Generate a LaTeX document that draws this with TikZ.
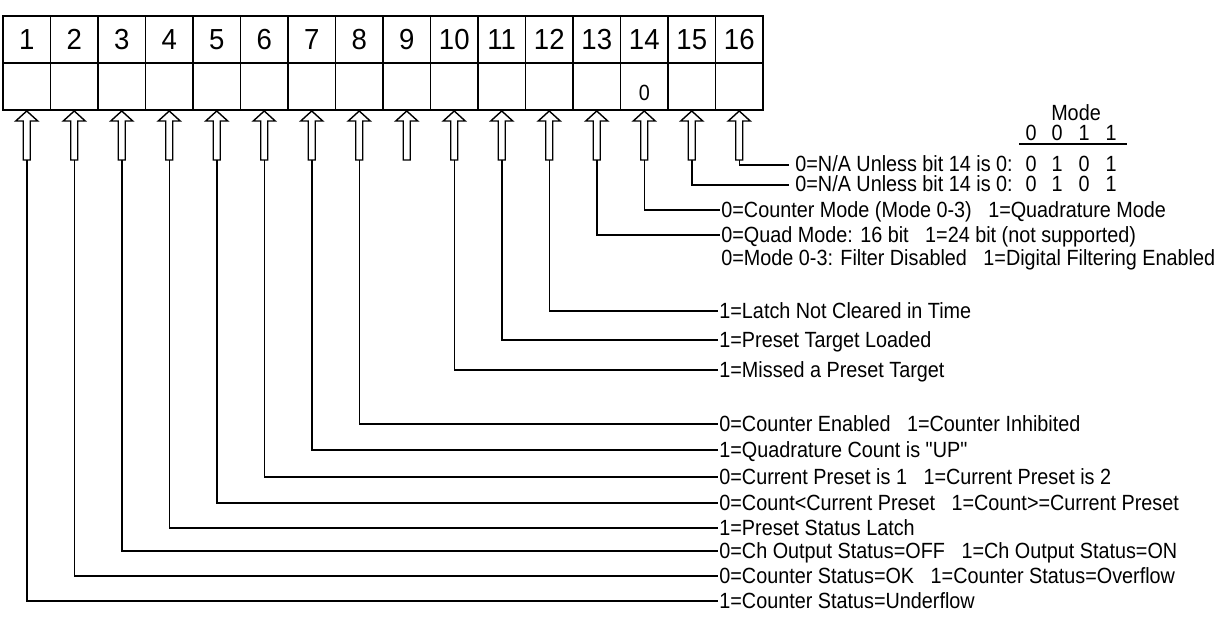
\documentclass[tikz,border=0pt]{standalone}
\usepackage{fontspec}
\setmainfont{Liberation Sans}[FakeStretch=0.9, Ligatures=TeXOff]
\newfontfamily\hdfamily{Liberation Sans}[FakeStretch=0.95]
\newcommand\lblfont{\fontsize{11pt}{13pt}\selectfont}
\newcommand\hdfont{\hdfamily\fontsize{14.5pt}{16pt}\selectfont}
\tikzset{
  cellbox/.style={draw, line width=0.8pt, minimum width=23.75pt, minimum height=23.5pt, inner sep=0pt, outer sep=0pt},
  hcell/.style={cellbox, font=\hdfont, text height=10.4pt, text depth=0pt},
  vcell/.style={cellbox},
  uparrow/.style={draw, line width=0.7pt, fill=white, line join=miter},
  lead/.style={draw, line width=0.75pt},
  lbl/.style={anchor=west, inner sep=0.5pt, font=\lblfont, text height=7.9pt, text depth=0pt},
  mval/.style={inner sep=0pt, font=\lblfont, text height=7.9pt, text depth=0pt},
}
\begin{document}
\begin{tikzpicture}[x=0.5pt,y=-0.5pt]
\useasboundingbox (0,0) rectangle (1220,627);
% register cells and arrows
\foreach \i in {1,...,16} {
  \pgfmathsetmacro\cx{26.75+(\i-1)*47.5}
  \node[hcell] (h\i) at (\cx,39.5) {\i};
  \node[vcell] (v\i) at (\cx,86.5) {};
  \draw[uparrow] (\cx,111) -- (\cx+11,121) -- (\cx+3.5,121) -- (\cx+3.5,160)
     -- (\cx-3.5,160) -- (\cx-3.5,121) -- (\cx-11,121) -- cycle;
  \coordinate (s\i) at (\cx,160);
}
\node[mval] (z14) at (644.25,93) {0};
% labels
\node[lbl] (t1)  at (718,601) {1=Counter Status=Underflow};
\node[lbl] (t2)  at (718,576) {0=Counter Status=OK~~~1=Counter Status=Overflow};
\node[lbl] (t3)  at (718,551) {0=Ch Output Status=OFF~~~1=Ch Output Status=ON};
\node[lbl] (t4)  at (718,528) {1=Preset Status Latch};
\node[lbl] (t5)  at (718,503) {0=Count<Current Preset~~~1=Count>=Current Preset};
\node[lbl] (t6)  at (718,477) {0=Current Preset is 1~~~1=Current Preset is 2};
\node[lbl] (t7)  at (718,450) {1=Quadrature Count is "UP"};
\node[lbl] (t8)  at (718,424) {0=Counter Enabled~~~1=Counter Inhibited};
\node[lbl] (t10) at (718,370) {1=Missed a Preset Target};
\node[lbl] (t11) at (718,340) {1=Preset Target Loaded};
\node[lbl] (t12) at (718,311) {1=Latch Not Cleared in Time};
\node[lbl] (t13) at (720,235) {0=Quad Mode: 16 bit~~~1=24 bit (not supported)};
\node[lbl] (tx)  at (720,258) {0=Mode 0-3: Filter Disabled~~~1=Digital Filtering Enabled};
\node[lbl] (t14) at (720,210) {0=Counter Mode (Mode 0-3)~~~1=Quadrature Mode};
\node[lbl, inner sep=0pt] (t16) at (795,163.5) {0=N/A Unless bit 14 is 0:};
\node[lbl, inner sep=0pt] (t15) at (795,184) {0=N/A Unless bit 14 is 0:};
\coordinate (e16) at (789,165);
\coordinate (e15) at (789,185);
% leaders
\foreach \i in {1,2,3,4,5,6,7,8,10,11,12,13,14} {
  \draw[lead] (s\i) |- (t\i.west);
}
\draw[lead] (s15) |- (e15);
\draw[lead] (s16) |- (e16);
% mode table
\node[mval] (mode) at (1076,113) {Mode};
\node[mval] (m1) at (1031,133) {0};
\node[mval] (m2) at (1057,133) {0};
\node[mval] (m3) at (1084,133) {1};
\node[mval] (m4) at (1111,133) {1};
\coordinate (ul) at (1019,144);
\coordinate (ur) at (1127,144);
\draw[lead] (ul) -- (ur);
\node[mval] (a1) at (1031,163.5) {0};
\node[mval] (a2) at (1057,163.5) {1};
\node[mval] (a3) at (1084,163.5) {0};
\node[mval] (a4) at (1111,163.5) {1};
\node[mval] (b1) at (1031,184) {0};
\node[mval] (b2) at (1057,184) {1};
\node[mval] (b3) at (1084,184) {0};
\node[mval] (b4) at (1111,184) {1};
\end{tikzpicture}
\end{document}
